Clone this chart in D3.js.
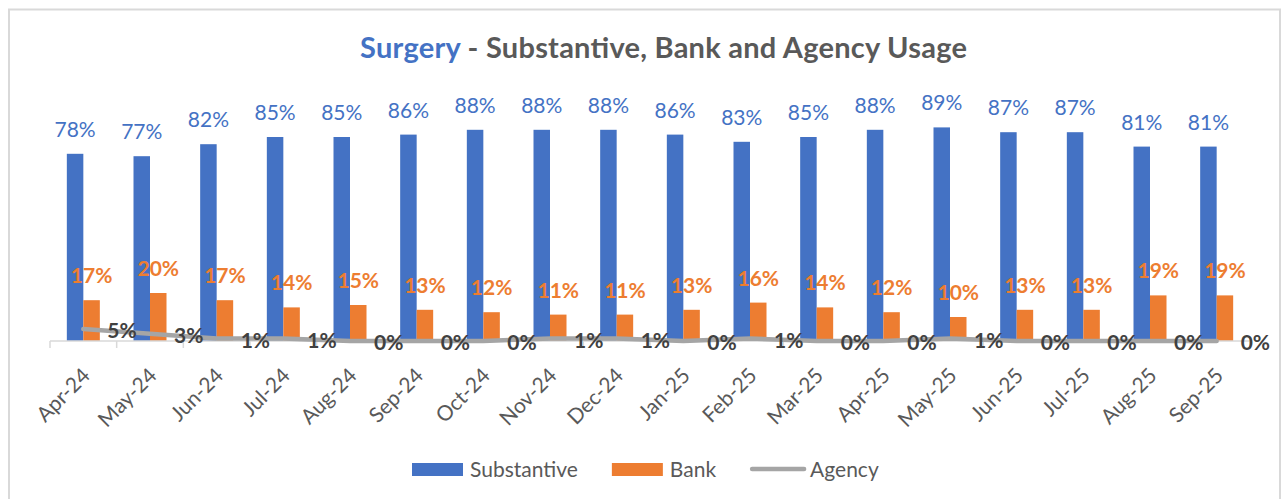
<!DOCTYPE html>
<html lang="en">
<head>
  <meta charset="UTF-8">
  <title>Surgery - Substantive, Bank and Agency Usage</title>
  <script src="https://d3js.org/d3.v7.min.js"></script>
  <style>
    body { margin: 0; background: #fff; font-family: Lato, "Open Sans", sans-serif; }
    .blue-label { font-size: 21px; fill: #4472C4; text-anchor: middle; }
    .orange-label { font-size: 21px; font-weight: bold; fill: #ED7D31; text-anchor: middle; }
    .agency-label { font-size: 21px; font-weight: bold; fill: #404040; }
    .tick-label { font-size: 21px; fill: #595959; text-anchor: end; }
    .legend-text { font-size: 21px; fill: #595959; }
  </style>
</head>
<body>
  <svg width="1285" height="499"></svg>

  <script>
    const months = ["Apr-24", "May-24", "Jun-24", "Jul-24", "Aug-24", "Sep-24", "Oct-24", "Nov-24", "Dec-24",
      "Jan-25", "Feb-25", "Mar-25", "Apr-25", "May-25", "Jun-25", "Jul-25", "Aug-25", "Sep-25"];
    const substantive = [78, 77, 82, 85, 85, 86, 88, 88, 88, 86, 83, 85, 88, 89, 87, 87, 81, 81];
    const bank = [17, 20, 17, 14, 15, 13, 12, 11, 11, 13, 16, 14, 12, 10, 13, 13, 19, 19];
    const agency = [5, 3, 1, 1, 0, 0, 0, 1, 1, 0, 1, 0, 0, 1, 0, 0, 0, 0];
    const seriesNames = ["Substantive", "Bank", "Agency"];

    const colors = { Substantive: "#4472C4", Bank: "#ED7D31", Agency: "#A5A5A5" };

    const svg = d3.select("svg");

    // Rahmen
    svg.append("rect")
      .attr("x", 9).attr("y", 9.5)
      .attr("width", 1271).attr("height", 500)
      .attr("fill", "none").attr("stroke", "#D9D9D9").attr("stroke-width", 2);

    // Titel
    const title = svg.append("text")
      .attr("x", 663.5).attr("y", 58)
      .attr("text-anchor", "middle")
      .attr("textLength", 607)
      .style("font-size", "29px").style("font-weight", "bold");
    title.append("tspan").attr("fill", "#4472C4").text("Surgery");
    title.append("tspan").attr("fill", "#595959").text(" - Substantive, Bank and Agency Usage");

    const baseY = 341;
    const x = d3.scaleBand().domain(months).range([50, 1250]);
    const y = d3.scaleLinear().domain([0, 100]).range([baseY, 101]);
    const barW = 16.5;

    const data = months.map((m, i) => ({ m, s: substantive[i], b: bank[i], a: agency[i] }));
    const cx = d => x(d.m) + x.bandwidth() / 2;

    // Balken
    svg.append("g").selectAll("rect")
      .data(data).join("rect")
      .attr("x", d => cx(d) - barW)
      .attr("y", d => y(d.s))
      .attr("width", barW)
      .attr("height", d => baseY - y(d.s))
      .attr("fill", colors.Substantive);

    svg.append("g").selectAll("rect")
      .data(data).join("rect")
      .attr("x", d => cx(d))
      .attr("y", d => y(d.b))
      .attr("width", barW)
      .attr("height", d => baseY - y(d.b))
      .attr("fill", colors.Bank);

    // x-Achse
    const axis = svg.append("g");
    axis.append("line")
      .attr("x1", 50).attr("x2", 1250).attr("y1", baseY).attr("y2", baseY)
      .attr("stroke", "#D9D9D9").attr("stroke-width", 1.5);
    axis.selectAll(".tk")
      .data(d3.range(months.length + 1)).join("line")
      .attr("class", "tk")
      .attr("x1", i => 50 + i * x.bandwidth()).attr("x2", i => 50 + i * x.bandwidth())
      .attr("y1", baseY).attr("y2", baseY + 7)
      .attr("stroke", "#D9D9D9").attr("stroke-width", 1.5);
    axis.selectAll(".tick-label")
      .data(data).join("text")
      .attr("class", "tick-label")
      .attr("transform", d => `translate(${cx(d) + 8},${baseY + 36}) rotate(-45)`)
      .text(d => d.m);

    // Agency Linie
    const line = d3.line().x(d => cx(d)).y(d => y(d.a));
    svg.append("path")
      .datum(data)
      .attr("d", line)
      .attr("fill", "none")
      .attr("stroke", colors.Agency)
      .attr("stroke-width", 4.5)
      .attr("stroke-linecap", "round")
      .attr("stroke-linejoin", "round");

    // Beschriftungen
    svg.append("g").selectAll("text")
      .data(data).join("text")
      .attr("class", "blue-label")
      .attr("x", d => cx(d) - barW / 2)
      .attr("y", d => y(d.s) - 17)
      .text(d => d.s + "%");

    svg.append("g").selectAll("text")
      .data(data).join("text")
      .attr("class", "orange-label")
      .attr("x", d => cx(d) + barW / 2)
      .attr("y", d => y(d.b) - 17)
      .text(d => d.b + "%");

    svg.append("g").selectAll("text")
      .data(data).join("text")
      .attr("class", "agency-label")
      .attr("x", d => cx(d) + 24)
      .attr("y", d => y(d.a) + 9)
      .text(d => d.a + "%");

    // Legende
    const legend = svg.append("g");
    let lx = 412;
    seriesNames.forEach(name => {
      if (name === "Agency") {
        legend.append("line")
          .attr("x1", lx + 2).attr("x2", lx + 54).attr("y1", 469).attr("y2", 469)
          .attr("stroke", colors[name]).attr("stroke-width", 4.5).attr("stroke-linecap", "round");
      } else {
        legend.append("rect")
          .attr("x", lx).attr("y", 463).attr("width", 51).attr("height", 13)
          .attr("fill", colors[name]);
      }
      const t = legend.append("text")
        .attr("class", "legend-text")
        .attr("x", lx + (name === "Agency" ? 60 : 58)).attr("y", 477)
        .text(name);
      lx += 58 + t.node().getComputedTextLength() + 34;
    });
  </script>
</body>
</html>
